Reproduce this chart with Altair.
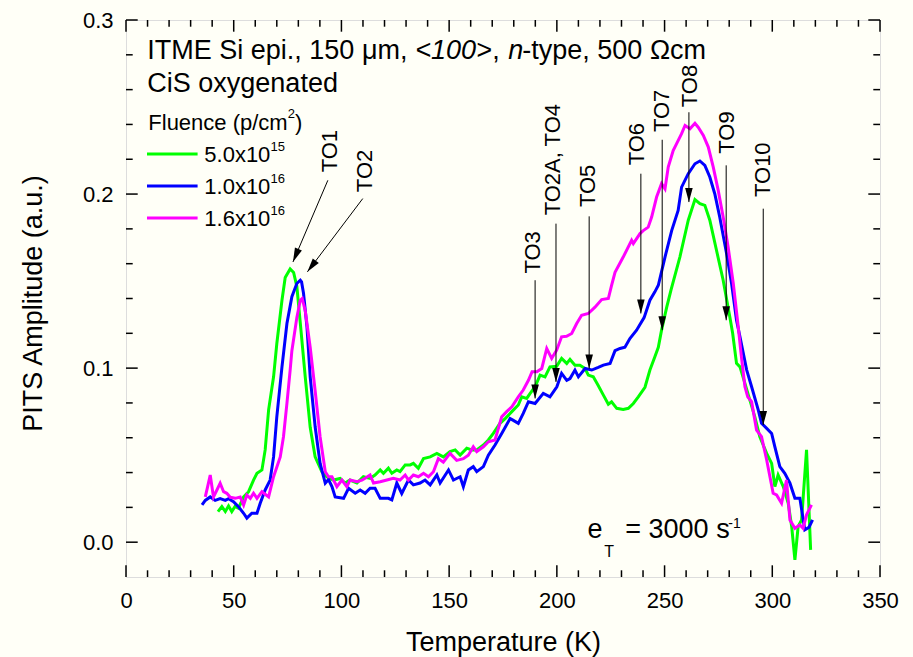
import altair as alt
import pandas as pd

# ---------------- data ----------------
series_names = ["5.0x10^15", "1.0x10^16", "1.6x10^16"]
legend_mantissa = ["5.0x10", "1.0x10", "1.6x10"]
legend_exponent = ["15", "16", "16"]
colors = ["#00ff00", "#0000ff", "#ff00ff"]

green_T = [42.7, 44.5, 46.1, 47.6, 49.1, 50.6, 52.2, 54.6, 56.9, 59.2, 60.8, 63.1, 64.6, 66.2, 68.5, 70.0, 72.4, 73.9, 76.2, 77.8,
           79.3, 80.9, 83.2, 85.5, 87.8, 90.9, 93.2, 96.3, 99.4, 101.7, 104.0, 107.2, 110.2, 113.3, 115.6, 118.0, 119.5, 121.8, 123.4, 125.7,
           127.2, 129.6, 131.9, 133.4, 135.7, 138.1, 141.2, 144.3, 147.3, 150.4, 152.8, 155.1, 158.2, 160.5, 162.8, 165.9, 168.2, 170.5, 173.6, 176.0,
           179.1, 182.1, 183.7, 186.0, 187.6, 189.9, 192.2, 194.5, 196.8, 199.9, 202.2, 204.6, 206.1, 208.4, 210.7, 213.1, 214.6, 216.9, 219.2, 221.6,
           223.9, 225.4, 227.8, 230.8, 233.2, 235.5, 237.8, 240.9, 243.2, 245.5, 247.1, 248.6, 251.0, 253.0, 257.1, 261.0, 264.1, 266.4, 268.7, 271.0,
           274.1, 277.2, 280.3, 281.6, 283.4, 285.0, 287.3, 289.6, 291.9, 294.2, 297.4, 299.7, 301.2, 302.7, 305.1, 307.4, 309.0, 310.5, 312.0, 313.6,
           315.9, 317.8]
green_v = [0.0176, 0.0205, 0.0176, 0.0208, 0.0176, 0.0205, 0.0195, 0.026, 0.029, 0.0357, 0.0396, 0.0415, 0.053, 0.076, 0.095, 0.114, 0.139, 0.152, 0.157, 0.155,
           0.147, 0.126, 0.095, 0.066, 0.049, 0.0405, 0.0376, 0.0357, 0.0366, 0.034, 0.0357, 0.034, 0.0376, 0.0366, 0.0386, 0.0415, 0.0396, 0.0425, 0.0396, 0.0415,
           0.0405, 0.0444, 0.0444, 0.0453, 0.0425, 0.048, 0.049, 0.051, 0.049, 0.052, 0.053, 0.050, 0.054, 0.053, 0.053, 0.0558, 0.0587, 0.0625, 0.0683, 0.071,
           0.075, 0.0788, 0.0835, 0.0826, 0.0855, 0.0893, 0.096, 0.095, 0.1007, 0.1011, 0.1056, 0.1027, 0.105, 0.1017, 0.1017, 0.0998, 0.096, 0.095, 0.090, 0.0845,
           0.0793, 0.0807, 0.0769, 0.0763, 0.0769, 0.0797, 0.0835, 0.089, 0.0989, 0.1065, 0.112, 0.1218, 0.135, 0.145, 0.1638, 0.185, 0.1968, 0.1945, 0.1935, 0.185,
           0.1677, 0.1505, 0.1294, 0.12, 0.1027, 0.1007, 0.0912, 0.0816, 0.072, 0.0606, 0.051, 0.0453, 0.0319, 0.0386, 0.0319, 0.0224, 0.009, -0.0102, 0.009, 0.0128,
           0.053, -0.0044]

blue_T = [35.3, 36.8, 39.1, 41.4, 43.7, 46.1, 47.6, 49.9, 52.2, 54.6, 56.1, 58.4, 60.8, 62.3, 64.6, 66.9, 68.5, 70.0, 72.4, 74.7,
          77.0, 79.3, 80.9, 81.5, 82.4, 84.0, 85.5, 87.8, 90.1, 92.5, 94.0, 95.6, 97.1, 101.0, 103.3, 106.4, 108.7, 111.0, 113.3, 115.6,
          118.0, 121.8, 123.4, 125.7, 128.0, 131.1, 133.4, 136.5, 138.8, 141.2, 144.3, 145.8, 149.7, 152.0, 155.1, 156.6, 158.9, 161.2, 162.8, 165.9,
          168.2, 171.3, 174.4, 178.3, 179.8, 182.1, 184.4, 186.8, 189.9, 193.7, 196.8, 200.0, 202.2, 204.6, 206.1, 208.4, 210.0, 213.1, 216.2, 219.2,
          221.6, 224.7, 227.0, 229.3, 231.6, 233.9, 237.0, 240.5, 243.2, 245.5, 247.1, 250.2, 253.3, 256.3, 257.9, 261.0, 264.1, 266.4, 268.7, 271.0,
          273.3, 275.6, 278.8, 281.1, 283.4, 285.0, 288.1, 290.4, 293.5, 295.0, 297.4, 299.7, 301.2, 303.5, 305.8, 308.2, 310.5, 312.8, 315.1, 317.0,
          318.7]
blue_v = [0.0214, 0.024, 0.026, 0.024, 0.025, 0.024, 0.025, 0.0233, 0.0204, 0.0166, 0.0138, 0.0166, 0.0166, 0.0224, 0.030, 0.0357, 0.049, 0.072, 0.1007, 0.1256,
          0.141, 0.1486, 0.1505, 0.1495, 0.143, 0.1237, 0.095, 0.0663, 0.0453, 0.0339, 0.036, 0.0319, 0.026, 0.0252, 0.031, 0.0281, 0.030, 0.0281, 0.031, 0.031,
          0.0252, 0.0252, 0.0243, 0.034, 0.028, 0.0357, 0.0329, 0.034, 0.0357, 0.0329, 0.0386, 0.034, 0.0415, 0.0357, 0.0376, 0.0319, 0.0415, 0.0434, 0.0405, 0.0434,
          0.050, 0.0558, 0.0625, 0.071, 0.070, 0.0683, 0.074, 0.0807, 0.0797, 0.0855, 0.0835, 0.0893, 0.097, 0.093, 0.094, 0.0989, 0.095, 0.0998, 0.0989, 0.1004,
          0.1017, 0.1027, 0.110, 0.1113, 0.112, 0.117, 0.1218, 0.129, 0.139, 0.1438, 0.1476, 0.1638, 0.179, 0.1906, 0.204, 0.2117, 0.2174, 0.219, 0.2165, 0.2098,
          0.2002, 0.1868, 0.1657, 0.1486, 0.1275, 0.118, 0.099, 0.0893, 0.0759, 0.0683, 0.0654, 0.0625, 0.0548, 0.0434, 0.0396, 0.0339, 0.0252, 0.0252, 0.0071, 0.0085,
          0.0128]

mag_T = [36.8, 37.9, 39.1, 40.6, 42.2, 43.7, 45.3, 46.8, 48.4, 50.7, 53.0, 54.6, 56.1, 57.7, 59.2, 60.8, 63.1, 66.2, 68.5, 71.6,
         73.1, 74.7, 76.2, 77.0, 79.3, 80.9, 81.8, 83.2, 85.5, 87.8, 90.1, 92.5, 94.0, 95.6, 97.9, 100.2, 102.5, 104.0, 107.2, 109.5,
         111.0, 113.3, 114.9, 118.0, 121.1, 124.1, 127.2, 129.6, 131.1, 133.4, 135.7, 138.1, 140.4, 142.7, 145.0, 147.3, 150.4, 153.5, 156.6, 158.9,
         161.2, 162.8, 165.9, 168.2, 171.3, 174.4, 176.7, 179.1, 182.1, 184.4, 186.8, 188.5, 190.7, 193.0, 195.3, 197.6, 199.9, 202.2, 204.5, 206.9,
         209.2, 211.5, 214.6, 217.7, 220.8, 223.9, 225.4, 227.0, 230.8, 234.7, 235.5, 238.6, 240.1, 242.4, 244.0, 246.3, 248.6, 250.2, 251.7, 254.0,
         255.6, 257.9, 259.5, 261.8, 264.1, 265.6, 268.0, 270.3, 272.6, 274.9, 277.2, 279.5, 281.9, 284.2, 285.5, 287.3, 288.6, 290.4, 292.7, 295.0,
         297.4, 300.4, 302.0, 304.3, 306.6, 308.2, 310.5, 312.8, 314.3, 315.9, 318.2]
mag_v = [0.026, 0.0319, 0.0386, 0.026, 0.030, 0.0339, 0.029, 0.0281, 0.0258, 0.0252, 0.026, 0.0214, 0.0271, 0.0252, 0.0281, 0.0252, 0.029, 0.026, 0.0376, 0.049,
         0.0606, 0.0797, 0.0989, 0.110, 0.129, 0.139, 0.140, 0.133, 0.112, 0.087, 0.0606, 0.0405, 0.0376, 0.0376, 0.0319, 0.0357, 0.0319, 0.0357, 0.0347, 0.0357,
         0.0367, 0.0386, 0.034, 0.0347, 0.0357, 0.0367, 0.0357, 0.0386, 0.0357, 0.0386, 0.0376, 0.0396, 0.0376, 0.0405, 0.048, 0.046, 0.051, 0.047, 0.048, 0.050,
         0.0548, 0.052, 0.0548, 0.0577, 0.0587, 0.072, 0.075, 0.0778, 0.0835, 0.0874, 0.093, 0.0979, 0.0979, 0.0998, 0.1113, 0.1056, 0.1103, 0.118, 0.1183, 0.1199,
         0.1256, 0.1304, 0.1314, 0.135, 0.1394, 0.140, 0.1476, 0.155, 0.1638, 0.1734, 0.1715, 0.1773, 0.179, 0.181, 0.1868, 0.1983, 0.206, 0.203, 0.2155, 0.225,
         0.229, 0.2347, 0.2394, 0.2375, 0.2407, 0.2384, 0.2337, 0.227, 0.2155, 0.2021, 0.1868, 0.1696, 0.1486, 0.1237, 0.1084, 0.0893, 0.0835, 0.0807, 0.0644, 0.0606,
         0.0472, 0.0281, 0.0271, 0.0224, 0.0357, 0.0128, 0.008, 0.0099, 0.008, 0.0157, 0.0214]

# peak annotations
to_labels = ["TO1", "TO2", "TO3", "TO2A, TO4", "TO5", "TO6", "TO7", "TO8", "TO9", "TO10"]
to_text_T = [94.8, 111.0, 189.1, 198.4, 214.6, 237.0, 248.6, 261.8, 278.8, 295.8]
to_text_v = [0.2125, 0.2011, 0.1543, 0.1878, 0.1925, 0.2165, 0.2356, 0.2499, 0.2232, 0.1983]
arrow_T0 = [93.7, 109.9, 189.9, 199.6, 215.0, 239.0, 248.9, 261.3, 278.6, 295.8]
arrow_v0 = [0.2079, 0.1974, 0.1505, 0.183, 0.1872, 0.2117, 0.2312, 0.247, 0.2165, 0.1916]
arrow_T1 = [77.5, 84.2, 189.9, 199.6, 215.0, 239.0, 248.9, 261.3, 278.6, 295.8]
arrow_v1 = [0.161, 0.1553, 0.0826, 0.0921, 0.0998, 0.1314, 0.1218, 0.1954, 0.1275, 0.0673]
arrow_angle = [23, 37, 0, 0, 0, 0, 0, 0, 0, 0]

# axes ticks
x_major = [0, 50, 100, 150, 200, 250, 300, 350]
x_minor = [t for t in range(0, 351, 10) if t % 50 != 0]
y_major = [0.0, 0.1, 0.2, 0.3]
y_minor = [round(0.02 * k, 2) for k in range(1, 15) if k % 5 != 0]

for a, b in [(green_T, green_v), (blue_T, blue_v), (mag_T, mag_v)]:
    assert len(a) == len(b), (len(a), len(b))

# ---------------- chart ----------------
W, H = 754, 557
FONT = "Liberation Sans"
xs = alt.Scale(domain=[0, 350], nice=False, zero=False)
ys = alt.Scale(domain=[-0.02, 0.3], nice=False, zero=False)

xaxis = alt.Axis(values=x_major, title="Temperature (K)", grid=False, ticks=False, tickSize=0,
                 domain=False, labelFontSize=22, labelPadding=13, labelFlush=False, labelOverlap=False,
                 labelFont=FONT, labelColor="black", titleFont=FONT, titleFontSize=27,
                 titleFontWeight="normal", titleColor="black", titleBaseline="alphabetic", titleY=73)
yaxis = alt.Axis(values=y_major, format=".1f", title="PITS Amplitude (a.u.)", grid=False, ticks=False,
                 tickSize=0, domain=False, labelFontSize=22, labelPadding=13, labelOverlap=False,
                 labelFlush=False, labelFont=FONT, labelColor="black", titleFont=FONT, titleFontSize=27,
                 titleFontWeight="normal", titleColor="black", titleBaseline="alphabetic",
                 titleAngle=270, titleX=-85, titleY=283)


def X(f="T"):
    return alt.X(f"{f}:Q", scale=xs, axis=xaxis)


def Y(f="v"):
    return alt.Y(f"{f}:Q", scale=ys, axis=yaxis)


layers = []

# data lines
for Ts, vs, col in [(green_T, green_v, colors[0]), (blue_T, blue_v, colors[1]), (mag_T, mag_v, colors[2])]:
    d = pd.DataFrame({"T": Ts, "v": vs})
    layers.append(alt.Chart(d).mark_line(strokeWidth=3, color=col, clip=True).encode(x=X(), y=Y()))

# inward ticks
maj, mnr = 11.7, 6.7
for vals, ln in [(x_major, maj), (x_minor, mnr)]:
    d = pd.DataFrame({"T": vals})
    layers.append(alt.Chart(d).mark_rule(color="black", strokeWidth=1.5).encode(
        x=X(), y=alt.value(H), y2=alt.value(H - ln)))
    layers.append(alt.Chart(d).mark_rule(color="black", strokeWidth=1.5).encode(
        x=X(), y=alt.value(0), y2=alt.value(ln)))
for vals, ln in [(y_major, maj), (y_minor, mnr)]:
    d = pd.DataFrame({"v": vals})
    layers.append(alt.Chart(d).mark_rule(color="black", strokeWidth=1.5).encode(
        y=Y(), x=alt.value(0), x2=alt.value(ln)))
    layers.append(alt.Chart(d).mark_rule(color="black", strokeWidth=1.5).encode(
        y=Y(), x=alt.value(W), x2=alt.value(W - ln)))

# annotation arrows
arr = pd.DataFrame({"T": arrow_T0, "v": arrow_v0, "T2": arrow_T1, "v2": arrow_v1})
layers.append(alt.Chart(arr).mark_rule(color="black", strokeWidth=1).encode(
    x=X(), y=Y(), x2="T2:Q", y2="v2:Q"))
heads = pd.DataFrame({"T": arrow_T1, "v": arrow_v1, "ang": arrow_angle})
layers.append(alt.Chart(heads).mark_point(
    shape="M-0.54,-2L0.54,-2L0,0Z", size=196, filled=True, color="black", opacity=1, strokeWidth=0
).encode(x=X(), y=Y(), angle=alt.Angle("ang:Q", scale=None)))
lab = pd.DataFrame({"T": to_text_T, "v": to_text_v, "label": to_labels})
layers.append(alt.Chart(lab).mark_text(angle=270, align="left", baseline="middle", fontSize=22,
                                       font=FONT, color="black").encode(x=X(), y=Y(), text="label:N"))

one = pd.DataFrame({"k": [0]})


def txt(s, x, y, size, style="normal"):
    return alt.Chart(one).mark_text(text=s, align="left", baseline="alphabetic", fontSize=size,
                                    font=FONT, color="black", fontStyle=style).encode(
        x=alt.value(x), y=alt.value(y))


# header text
layers += [
    txt("ITME Si epi., 150 μm, ", 21.3, 39, 27),
    txt("<100>", 289.3, 39, 27, "italic"),
    txt(",", 366.3, 39, 27),
    txt("n", 382.3, 39, 27, "italic"),
    txt("-type, 500 Ωcm", 396.3, 39, 27),
    txt("CiS oxygenated", 21.3, 72, 27),
]

# legend
layers += [
    txt("Fluence (p/cm", 22.3, 110, 22),
    txt("2", 161.7, 98, 13),
    txt(")", 169.0, 110, 22),
]
for i in range(3):
    ly = 134 + 32 * i
    layers.append(alt.Chart(one).mark_rule(color=colors[i], strokeWidth=3).encode(
        x=alt.value(21), x2=alt.value(71.6), y=alt.value(ly)))
    layers.append(txt(legend_mantissa[i], 78.3, ly + 8.3, 22))
    layers.append(txt(legend_exponent[i], 144.5, ly - 3.5, 13))

# emission rate
layers += [
    txt("e", 461.6, 518.3, 27),
    txt("T", 478.3, 536.7, 16),
    txt("= 3000 s", 499.3, 518.3, 27),
    txt("-1", 602.3, 508.3, 14),
]

chart = alt.layer(*layers).properties(
    width=W, height=H,
    autosize=alt.AutoSizeParams(type="none"),
    padding={"left": 126, "top": 20, "right": 33, "bottom": 80},
    background="#fffff7",
).configure_view(stroke="black", strokeWidth=2).configure(font=FONT)

chart.save("out.html", embed_options={"renderer": "svg", "actions": False})
